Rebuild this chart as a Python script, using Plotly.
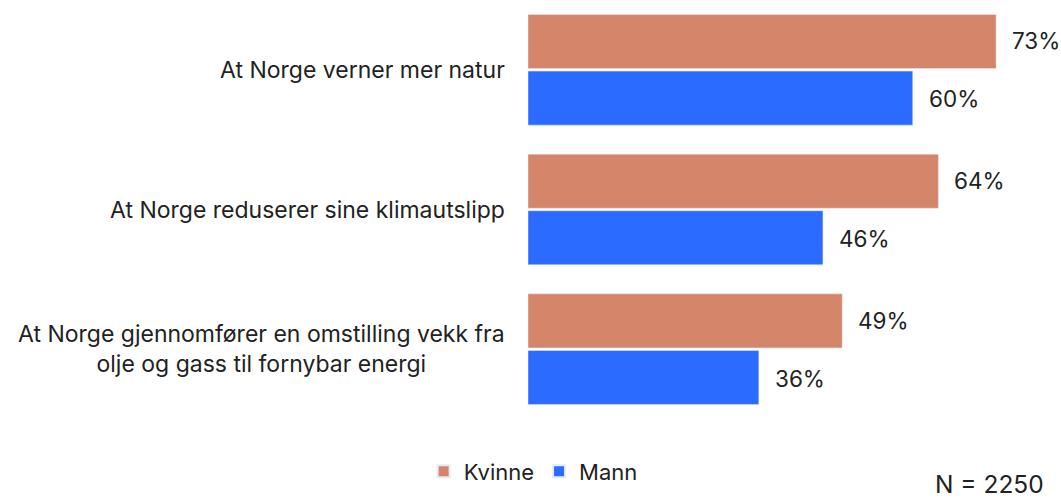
import plotly.graph_objects as go

categories = [
    "At Norge verner mer natur",
    "At Norge reduserer sine klimautslipp",
    "At Norge gjennomfører en omstilling vekk fra<br>olje og gass til fornybar energi",
]
kvinne = [73, 64, 49]
mann = [60, 46, 36]

FONT = "Inter"
TXT = "#222222"

fig = go.Figure()
fig.add_trace(go.Bar(
    y=categories, x=kvinne, name="Kvinne", orientation="h",
    marker_color="#D4856A",
))
fig.add_trace(go.Bar(
    y=categories, x=mann, name="Mann", orientation="h",
    marker_color="#2B6BFF",
))

# value labels, offset to the centre of each bar in the group
for vals, dy in ((kvinne, 29), (mann, -29)):
    for c, v in zip(categories, vals):
        fig.add_annotation(
            x=v, xref="x", y=c, yref="y", xanchor="left", yanchor="middle",
            xshift=14, yshift=dy, text=f"{v}%", showarrow=False,
            font=dict(size=22.5, color=TXT, family=FONT),
        )

for c in categories:
    fig.add_annotation(
        x=0, xref="paper", y=c, yref="y", xanchor="right", yanchor="middle",
        xshift=-21, text=c, showarrow=False, align="center",
        font=dict(size=23, color=TXT, family=FONT),
    )

fig.add_annotation(
    x=1, xref="paper", y=0, yref="paper", xanchor="right", yanchor="top",
    yshift=-48, xshift=5, text="N = 2250", showarrow=False,
    font=dict(size=24.5, color=TXT, family=FONT),
)

fig.update_layout(
    width=1061, height=499,
    barmode="group", bargap=0.19, bargroupgap=0.045,
    margin=dict(l=528, r=20, t=0, b=80, autoexpand=False),
    paper_bgcolor="white", plot_bgcolor="white",
    font=dict(family=FONT, size=19, color=TXT),
    xaxis=dict(range=[0, 80], visible=False),
    yaxis=dict(autorange="reversed", showticklabels=False, showgrid=False,
               zeroline=False, showline=False, ticks=""),
    legend=dict(orientation="h", x=0.01, xanchor="center",
                y=-0.075, yanchor="top",
                font=dict(size=22, color=TXT, family=FONT),
                itemsizing="constant", traceorder="normal"),
    showlegend=True,
)

fig.write_html("out.html", config={"displayModeBar": False},
               post_script="document.body.style.margin='0';")
